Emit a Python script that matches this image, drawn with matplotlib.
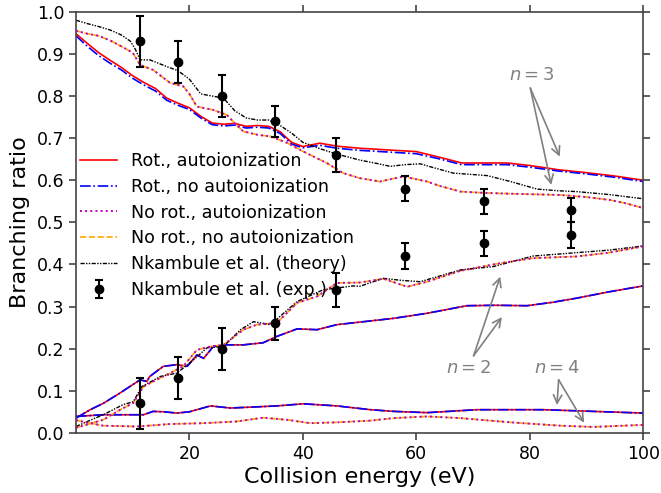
import matplotlib
matplotlib.use("Agg")
import matplotlib.pyplot as plt

# n = 3, with rotation (red / blue)
x_rot3 = [0, 2, 4, 6, 8, 10, 12, 14, 16, 18, 20, 22, 24, 26, 28, 30, 32, 34, 36, 38, 40,
          43, 46, 50, 55, 60, 64, 68, 72, 76, 80, 85, 90, 95, 100]
y_rot3_auto = [0.948, 0.925, 0.903, 0.885, 0.868, 0.848, 0.832, 0.818, 0.795, 0.783, 0.772,
               0.752, 0.736, 0.733, 0.735, 0.728, 0.730, 0.728, 0.715, 0.690, 0.680,
               0.688, 0.681, 0.676, 0.672, 0.668, 0.655, 0.641, 0.641, 0.641, 0.635,
               0.625, 0.618, 0.610, 0.600]
y_rot3_noauto = [0.943, 0.918, 0.896, 0.878, 0.862, 0.842, 0.826, 0.812, 0.790, 0.778, 0.768,
                 0.748, 0.732, 0.729, 0.731, 0.724, 0.726, 0.724, 0.711, 0.686, 0.677,
                 0.683, 0.676, 0.671, 0.667, 0.663, 0.651, 0.637, 0.637, 0.637, 0.631,
                 0.622, 0.615, 0.607, 0.597]

# n = 3, no rotation (magenta / orange)
x_norot3 = [0, 2, 4, 6, 8, 10, 11.3, 13.6, 16.6, 18.9, 20, 21.3, 24.2, 26.6, 28, 29.5, 32,
            34.3, 37.2, 40.1, 44.2, 47.1, 50, 53.6, 57.7, 61.9, 64, 67.8, 72, 76.6, 85.4,
            90, 94.2, 97, 100]
y_norot3 = [0.955, 0.948, 0.943, 0.932, 0.918, 0.903, 0.874, 0.862, 0.831, 0.823, 0.805,
            0.775, 0.767, 0.755, 0.735, 0.716, 0.708, 0.704, 0.689, 0.668, 0.641, 0.617,
            0.605, 0.597, 0.609, 0.597, 0.587, 0.573, 0.570, 0.568, 0.565, 0.560, 0.553,
            0.545, 0.534]

# n = 3, Nkambule theory
x_th3 = [0, 2, 4, 6, 8, 9.6, 10.5, 11.3, 13, 16, 18, 20, 22, 24, 26, 28, 30, 32, 34, 36,
         38, 40, 43, 46, 50, 53, 55.4, 58, 60.7, 63, 66.5, 72.5, 76.6, 81.3, 85, 88.3, 94, 100]
y_th3 = [0.980, 0.972, 0.965, 0.957, 0.945, 0.930, 0.910, 0.886, 0.886, 0.870, 0.860, 0.840,
         0.805, 0.800, 0.795, 0.765, 0.748, 0.743, 0.743, 0.730, 0.712, 0.690, 0.675, 0.662,
         0.648, 0.640, 0.633, 0.637, 0.639, 0.630, 0.617, 0.611, 0.597, 0.579, 0.575, 0.573,
         0.566, 0.556]

# n = 2, with rotation
x_rot2 = [0, 2.5, 4.8, 7.8, 11.3, 12.5, 13, 15.4, 17.8, 19.6, 21.3, 22.5, 24.2, 26.6, 29.5,
          33, 35.4, 39, 42.5, 46, 50, 56, 61.9, 68.9, 74, 79.5, 84, 88.3, 94, 100]
y_rot2 = [0.035, 0.055, 0.070, 0.095, 0.126, 0.122, 0.134, 0.158, 0.162, 0.158, 0.185, 0.177,
          0.205, 0.209, 0.209, 0.214, 0.229, 0.247, 0.245, 0.257, 0.263, 0.272, 0.284, 0.302,
          0.303, 0.302, 0.310, 0.320, 0.335, 0.349]

# n = 2, no rotation
x_norot2 = [0, 2.5, 4.8, 7.8, 10.1, 11.9, 13.6, 16.6, 18.9, 21.3, 23.7, 26, 29.5, 31.9, 35.4,
            39, 42.5, 46, 50, 54.2, 58.4, 61.9, 67.8, 74.8, 80.6, 88.3, 94, 100]
y_norot2 = [0.012, 0.022, 0.031, 0.055, 0.071, 0.110, 0.122, 0.142, 0.158, 0.197, 0.205,
            0.209, 0.245, 0.257, 0.261, 0.309, 0.324, 0.356, 0.357, 0.366, 0.347, 0.359,
            0.385, 0.403, 0.415, 0.419, 0.428, 0.443]

# n = 2, Nkambule theory
x_th2 = [0, 2.5, 4.8, 8.3, 10.1, 11.6, 14.9, 17.8, 20.7, 23.1, 26, 29, 31.3, 34.3, 39, 43.6,
         48.9, 50, 54.2, 57.5, 60.7, 67.8, 73.6, 80.6, 88.3, 94, 100]
y_th2 = [0.015, 0.030, 0.043, 0.067, 0.074, 0.110, 0.134, 0.142, 0.173, 0.202, 0.205, 0.245,
         0.264, 0.257, 0.312, 0.340, 0.349, 0.348, 0.367, 0.362, 0.359, 0.387, 0.395, 0.420,
         0.428, 0.434, 0.444]

# n = 4, with rotation
x_rot4 = [0, 4.8, 9.6, 11.9, 13.6, 15.5, 17.8, 20, 23.7, 27.2, 30.7, 35.4, 40.1, 46, 51.9,
          56, 61.9, 70.7, 82.4, 91.2, 100]
y_rot4 = [0.039, 0.043, 0.043, 0.043, 0.051, 0.050, 0.047, 0.050, 0.064, 0.059, 0.061, 0.064,
          0.069, 0.064, 0.055, 0.051, 0.048, 0.055, 0.055, 0.051, 0.047]

# n = 4, no rotation
x_norot4 = [0, 2.5, 4.8, 10.7, 16.6, 22.5, 28.3, 33, 37.2, 41.3, 46, 51.9, 56, 61.9, 67.8,
            76.6, 85.4, 91.2, 100]
y_norot4 = [0.030, 0.023, 0.017, 0.015, 0.021, 0.023, 0.027, 0.036, 0.031, 0.023, 0.025,
            0.029, 0.035, 0.039, 0.035, 0.025, 0.017, 0.014, 0.019]

# Nkambule et al. experiment
x_exp = [11.2, 17.9, 25.7, 35.0, 45.8, 58.0, 72.0, 87.2]
y_exp3 = [0.93, 0.88, 0.80, 0.74, 0.66, 0.58, 0.55, 0.53]
err_exp3 = [0.06, 0.05, 0.05, 0.037, 0.04, 0.03, 0.03, 0.028]
y_exp2 = [0.07, 0.13, 0.20, 0.26, 0.34, 0.42, 0.45, 0.47]
err_exp2 = [0.06, 0.05, 0.05, 0.04, 0.04, 0.03, 0.03, 0.03]

fig = plt.figure(figsize=(6.61, 4.93), dpi=100)
ax = fig.add_axes([0.115, 0.122, 0.858, 0.854])

lw = 1.2
ax.plot(x_rot3, y_rot3_auto, color='red', ls='-', lw=lw, label='Rot., autoionization')
ax.plot(x_rot3, y_rot3_noauto, color='blue', ls='-.', lw=lw, label='Rot., no autoionization')
ax.plot(x_norot3, y_norot3, color='m', ls=':', lw=1.4, zorder=2.6,
        label='No rot., autoionization')
ax.plot(x_norot3, y_norot3, color='orange', ls='--', lw=lw, label='No rot., no autoionization')
ax.plot(x_th3, y_th3, color='black', lw=1.0, dashes=(3, 1, 1, 1, 1, 1),
        label='Nkambule et al. (theory)')

for xs, ys in [(x_rot2, y_rot2), (x_rot4, y_rot4)]:
    ax.plot(xs, ys, color='red', ls='-', lw=lw)
    ax.plot(xs, ys, color='blue', ls='-.', lw=lw)
for xs, ys in [(x_norot2, y_norot2), (x_norot4, y_norot4)]:
    ax.plot(xs, ys, color='m', ls=':', lw=1.4, zorder=2.6)
    ax.plot(xs, ys, color='orange', ls='--', lw=lw)
ax.plot(x_th2, y_th2, color='black', lw=1.0, dashes=(3, 1, 1, 1, 1, 1))

ax.errorbar(x_exp, y_exp3, yerr=err_exp3, fmt='o', color='black', ms=6, capsize=3,
            elinewidth=1.5, capthick=1.5, zorder=3, label='Nkambule et al. (exp.)')
ax.errorbar(x_exp, y_exp2, yerr=err_exp2, fmt='o', color='black', ms=6, capsize=3,
            elinewidth=1.5, capthick=1.5, zorder=3)

# n labels with arrows
arrow = dict(arrowstyle='->', color='gray', lw=1.2, mutation_scale=15, shrinkA=0, shrinkB=0)
ax.text(80.4, 0.85, '$n = 3$', color='gray', fontsize=13, ha='center', va='center')
ax.annotate('', xy=(85.3, 0.656), xytext=(80.1, 0.819), arrowprops=arrow)
ax.annotate('', xy=(83.8, 0.589), xytext=(80.1, 0.819), arrowprops=arrow)
ax.text(69.2, 0.155, '$n = 2$', color='gray', fontsize=13, ha='center', va='center')
ax.annotate('', xy=(74.8, 0.371), xytext=(70.1, 0.183), arrowprops=arrow)
ax.annotate('', xy=(75.1, 0.275), xytext=(70.1, 0.183), arrowprops=arrow)
ax.text(84.8, 0.155, '$n = 4$', color='gray', fontsize=13, ha='center', va='center')
ax.annotate('', xy=(84.8, 0.066), xytext=(85.1, 0.126), arrowprops=arrow)
ax.annotate('', xy=(89.6, 0.024), xytext=(85.1, 0.126), arrowprops=arrow)

ax.set_xlim(0, 100)
ax.set_ylim(0, 1.0)
ax.set_xticks([20, 40, 60, 80, 100])
ax.set_yticks([0.0, 0.1, 0.2, 0.3, 0.4, 0.5, 0.6, 0.7, 0.8, 0.9, 1.0])
ax.tick_params(axis='both', which='both', direction='out', top=True, right=True,
               labelsize=12.5, color='#444444', length=5, width=1.2)
for sp in ax.spines.values():
    sp.set_color('#444444')
    sp.set_linewidth(1.2)
ax.set_xlabel('Collision energy (eV)', fontsize=16, labelpad=3)
ax.set_ylabel('Branching ratio', fontsize=16, labelpad=5)

ax.legend(loc='upper left', bbox_to_anchor=(-0.02, 0.705), frameon=False, fontsize=12.6,
          labelspacing=0.45, handlelength=2.1, handletextpad=0.8)

fig.savefig('out.png', dpi=100)
